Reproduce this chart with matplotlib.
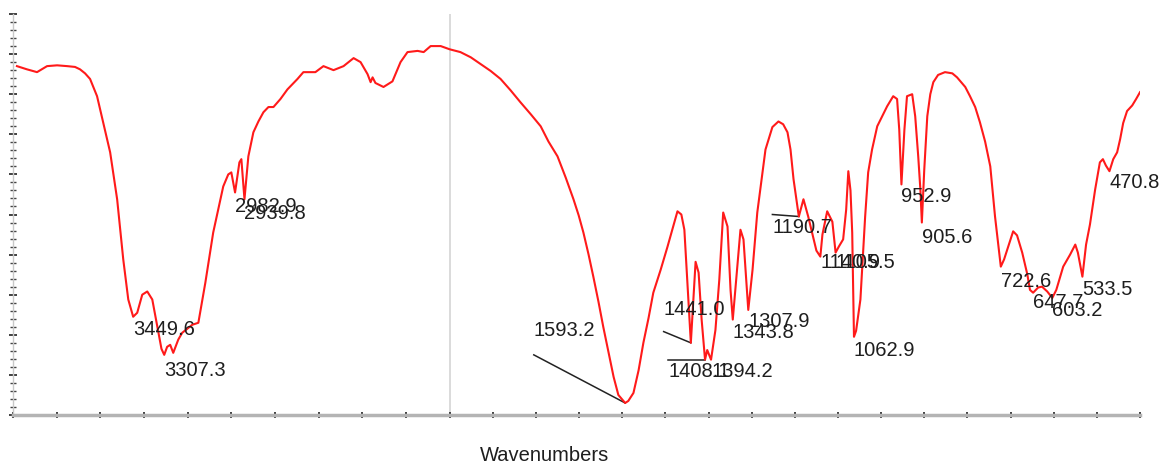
import numpy as np
import matplotlib.pyplot as plt

# FTIR spectrum, wavenumber (cm-1) vs transmittance (%)
wn = [3982, 3936, 3890, 3844, 3798, 3752, 3716, 3693, 3670, 3647,
      3615, 3587, 3555, 3523, 3495, 3472, 3449.6, 3431, 3408, 3385,
      3362, 3339, 3320, 3307.3, 3294, 3280, 3266, 3243, 3225, 3179,
      3151, 3119, 3083, 3037, 3014, 3000, 2982.9, 2963, 2954, 2939.8,
      2922, 2899, 2876, 2853, 2830, 2807, 2775, 2743, 2697, 2670,
      2615, 2578, 2532, 2486, 2440, 2408, 2376, 2362, 2353, 2340,
      2303, 2262, 2225, 2193, 2147, 2119, 2087, 2041, 2000,
      1975, 1951, 1928, 1905, 1882, 1859, 1836, 1812, 1789, 1771,
      1750, 1731, 1713, 1701, 1690, 1678, 1667, 1655, 1644, 1632,
      1620, 1609, 1593.2, 1586, 1574, 1562, 1551, 1539, 1528, 1511,
      1495, 1484, 1472, 1463,
      1456, 1449, 1441.0, 1435, 1430, 1423, 1416, 1408.1, 1403, 1394.2,
      1384, 1375, 1366, 1356, 1349, 1343.8, 1338, 1326, 1319, 1307.9,
      1298, 1287, 1268, 1252, 1238, 1227, 1217, 1210, 1203, 1190.7,
      1180, 1169, 1159, 1150, 1140.9, 1136, 1125, 1113, 1105.5, 1098,
      1088, 1081, 1076, 1071, 1067, 1062.9, 1058, 1048, 1037, 1030,
      1021, 1009, 986, 972, 963, 958, 952.9, 946, 940, 928,
      921, 914, 909, 905.6, 900, 893, 886, 879, 868, 852,
      835, 824, 805, 794, 782, 771, 759, 747, 736, 722.6,
      715, 706, 694, 685, 673, 661, 655, 647.7, 636, 627,
      615, 603.2, 594, 578, 562, 550, 544, 533.5, 525, 516,
      504, 493, 486, 479, 470.8, 462, 453, 446, 439, 430,
      418, 409, 400]
trans = [87, 86.2, 85.5, 87, 87.2, 87, 86.8, 86.2, 85.2, 83.8,
         79.5, 73, 65.5, 53.8, 38.8, 28.8, 24.5, 25.5, 30, 30.8,
         28.8, 22, 16.5, 15, 17, 17.5, 15.5, 18.8, 20.5, 22.5,
         23, 33, 45.5, 57, 60, 60.5, 55.5, 63, 63.8, 53.8,
         64.5, 70.5, 73.2, 75.5, 76.8, 76.8, 78.8, 81.2, 83.8, 85.5,
         85.5, 87, 86, 87, 89, 88, 85, 83, 84.2, 82.8,
         81.8, 83.2, 88, 90.5, 90.8, 90.5, 92, 92, 91.2,
         90.5, 89.2, 87.5, 85.8, 83.8, 81, 78, 75, 72, 68.2,
         64.5, 59.2, 53.8, 49.8, 45.5, 40, 34.5, 28.2, 22, 15.8,
         9.5, 5, 3, 3.5, 5.5, 11.2, 18, 24.2, 30.5, 36.2,
         42, 46.2, 50.8, 50,
         46.2, 33, 18, 28.8, 38.2, 35.5, 23.8, 13.8, 16.2, 13.8,
         21.2, 33.8, 50.5, 47, 31.2, 23.8, 31.2, 46.2, 43.8, 26.2,
         36.2, 50.5, 66.2, 71.8, 73.2, 72.5, 70.5, 66.2, 58.8, 49.5,
         53.8, 49.5, 45, 41, 39.5, 45, 50.8, 48.2, 40.5, 42,
         43.8, 51.2, 60.8, 56, 45.5, 19.5, 21, 28.8, 49.5, 60.5,
         66.2, 72, 77, 79.5, 78.8, 71.2, 57.5, 71.2, 79.5, 80,
         74.5, 64.5, 56.2, 48, 61.2, 74.5, 80, 83, 84.8, 85.5,
         85.2, 84.2, 81.8, 79.5, 76.8, 73, 68.2, 62, 49.5, 37,
         38.8, 41.8, 45.8, 44.8, 40.5, 35, 31.2, 30.5, 31.8, 32,
         30.8, 29.2, 31.2, 37, 40, 42.5, 40.5, 34.5, 42.5, 47.5,
         56.2, 63, 63.8, 62.2, 60.8, 63.8, 65.5, 68.8, 72.8, 75.8,
         77.2, 78.8, 80.5]

# peak labels: peak wavenumber, text anchor (left edge x, centre y)
peaks = [3449.6, 3307.3, 2982.9, 2939.8, 1593.2, 1441.0, 1408.1, 1394.2,
         1343.8, 1307.9, 1190.7, 1140.9, 1105.5, 1062.9, 952.9, 905.6,
         722.6, 647.7, 603.2, 533.5, 470.8]
label_x = [3449.6, 3307.3, 2982.9, 2939.8, 1805, 1504, 1493, 1394.2,
           1343.8, 1307.9, 1252, 1140.9, 1105.5, 1062.9, 952.9, 905.6,
           722.6, 647.7, 603.2, 533.5, 470.8]
label_y = [21.2, 11.2, 52, 50.2, 21, 26.2, 10.8, 10.8,
           20.5, 23.2, 46.8, 38, 38, 16.2, 54.5, 44.2,
           33.2, 28, 26, 31.2, 58]
# leader lines start points for the displaced labels
leaders = {1593.2: (1805, 15), 1441.0: (1504, 20.8),
           1408.1: (1495, 13.8), 1190.7: (1252, 50)}


def fwd(w):
    w = np.asarray(w, dtype=float)
    return np.where(w > 2000, 2000 + (w - 2000) * 0.506, w)


def inv(u):
    u = np.asarray(u, dtype=float)
    return np.where(u > 2000, 2000 + (u - 2000) / 0.506, u)


plt.rcParams['font.family'] = ['Liberation Sans', 'DejaVu Sans']

fig = plt.figure(figsize=(11.61, 4.63), dpi=100)
ax = fig.add_axes([13 / 1161, 48 / 463, 1127 / 1161, 401 / 463])
ax.set_xscale('function', functions=(fwd, inv))
ax.set_xlim(4000, 400)
ax.set_ylim(0, 100)

ax.axvline(2000, color='#d4d4d4', lw=1.2, zorder=1)
ax.plot(wn, trans, color='#ff1a1a', lw=1.5, zorder=3,
        solid_joinstyle='round')

wn_sorted = np.array(wn)[::-1]
tr_sorted = np.array(trans)[::-1]
for p, tx, ty in zip(peaks, label_x, label_y):
    if p in leaders:
        lx, ly = leaders[p]
        py = np.interp(p, wn_sorted, tr_sorted)
        ax.plot([lx, p], [ly, py], color='#222222', lw=1.1, zorder=2)
    ax.text(tx, ty, f"{p:.1f}", ha='left', va='center', fontsize=14.5,
            color='#1e1e1e', zorder=4)

# axis decoration
for s in ['top', 'right']:
    ax.spines[s].set_visible(False)
ax.spines['bottom'].set_color('#b4b4b4')
ax.spines['bottom'].set_linewidth(2.5)
ax.spines['left'].set_color('#c8c8c8')
ax.spines['left'].set_linewidth(1)

xt = list(range(4000, 1999, -200)) + list(range(1900, 399, -100))
ax.set_xticks(xt)
ax.set_xticklabels([])
ax.set_yticks(np.arange(0, 101, 10))
ax.set_yticks(np.arange(0, 101, 2), minor=True)
ax.set_yticklabels([])
ax.tick_params(axis='x', which='both', direction='inout', length=4,
               width=1.3, color='#333333')
ax.tick_params(axis='y', which='major', direction='inout', length=6,
               width=1.3, color='#333333')
ax.tick_params(axis='y', which='minor', direction='inout', length=4,
               width=1.0, color='#444444')

fig.text(545 / 1161, 1 - 446 / 463, "Wavenumbers", ha='center', va='top',
         fontsize=14.5, color='#1e1e1e')

fig.savefig("out.png", dpi=100)
